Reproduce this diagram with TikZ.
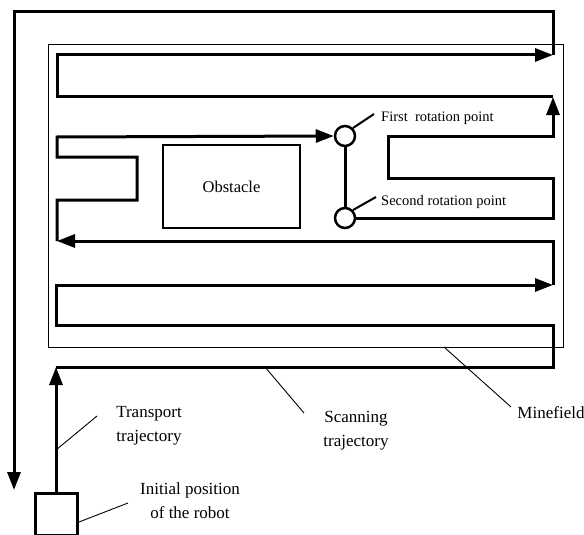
\documentclass[tikz,border=0pt]{standalone}
\usepackage{fontspec}
\setmainfont{Liberation Serif}
\usetikzlibrary{arrows.meta}

\tikzset{
  traj/.style={line width=3pt},
  tip/.style={-{Triangle[length=18pt,width=13pt]}},
  leader/.style={line width=0.9pt},
  lbl/.style={font=\fontsize{17}{24}\selectfont, align=center},
  smalllbl/.style={font=\fontsize{14.5}{17}\selectfont, anchor=west, inner sep=0pt},
}

\begin{document}
\begin{tikzpicture}[x=1pt, y=-1pt]
  \useasboundingbox (0,0) rectangle (584,535);
  \clip (0,0) rectangle (584,535);

  % minefield and obstacle
  \draw[line width=1pt] (48,45) rectangle (563,347);
  \node[draw, line width=2.5pt, minimum width=137pt, minimum height=83pt,
        font=\fontsize{16.5}{20}\selectfont] (obstacle) at (231.5,186.5) {Obstacle};

  % robot and rotation points
  \node[draw, line width=3pt, minimum size=42pt] (robot) at (56,514) {};
  \node[circle, draw, line width=2.5pt, minimum size=20pt, inner sep=0pt] (rot1) at (345,136) {};
  \node[circle, draw, line width=2.5pt, minimum size=20pt, inner sep=0pt] (rot2) at (345,218) {};

  % transport trajectory
  \draw[traj, tip] (robot.north) -- (56,367);
  \draw[traj, tip] (553,55) -- (553,12) -- (14,12) -- (14,490);

  % scanning trajectory
  \draw[traj, tip] (56,367) -- (553,367) -- (553,325) -- (56,325) -- (56,285) -- (553,285);
  \draw[traj, tip] (553,285) -- (553,241) -- (57,241);
  \draw[traj, tip] (57,241) -- (57,200) -- (137,200) -- (137,157) -- (57,157) -- (57,137) -- (rot1.west);
  \draw[traj] (rot1) -- (rot2);
  \draw[traj, tip] (rot2.east) -- (553,218) -- (553,178) -- (388,178) -- (388,136) -- (553,136) -- (553,97);
  \draw[traj, tip] (553,97) -- (57,97) -- (57,55) -- (553,55);

  % labels
  \node[smalllbl] (firstlbl) at (381,118) {First\ \ rotation point};
  \node[smalllbl] (secondlbl) at (381,202) {Second rotation point};
  \node[lbl] (transportlbl) at (149,426) {Transport\\trajectory};
  \node[lbl] (robotlbl) at (190,501) {Initial position\\of the robot};
  \node[lbl] (scanlbl) at (356,431) {Scanning\\trajectory};
  \node[lbl] (minelbl) at (551,413) {Minefield};

  % leader lines
  \coordinate (firstend) at (374,114);
  \coordinate (secondend) at (376,197);
  \coordinate (transportstart) at (56,450);
  \coordinate (transportend) at (97,416);
  \coordinate (robotend) at (128,503);
  \coordinate (scanstart) at (265,367);
  \coordinate (scanend) at (304,413);
  \coordinate (minestart) at (444,347);
  \coordinate (mineend) at (511,407);
  \draw[leader, line width=2pt] (rot1.45) -- (firstend);
  \draw[leader, line width=2pt] (rot2.45) -- (secondend);
  \draw[leader] (transportstart) -- (transportend);
  \draw[leader] (robot.-20) -- (robotend);
  \draw[leader] (scanstart) -- (scanend);
  \draw[leader] (minestart) -- (mineend);
\end{tikzpicture}
\end{document}
